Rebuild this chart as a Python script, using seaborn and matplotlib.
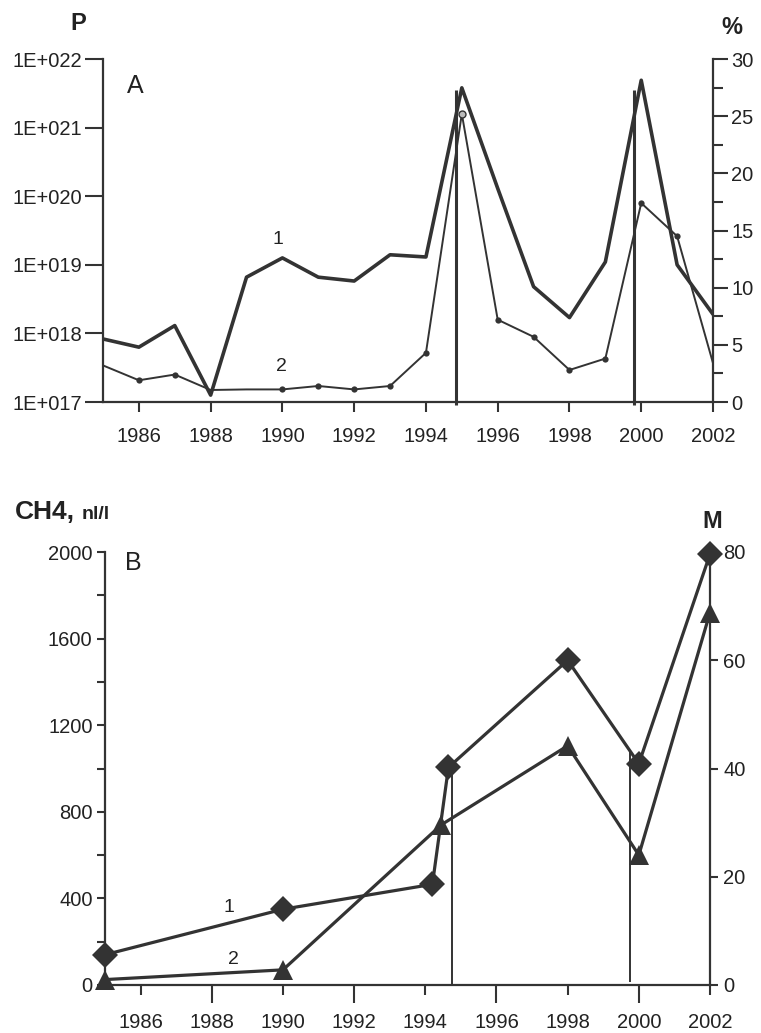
import numpy as np
import seaborn as sns
import matplotlib.pyplot as plt
from matplotlib.ticker import FixedLocator, FuncFormatter, MultipleLocator, NullLocator

sns.set_style("ticks")
plt.rcParams['font.family'] = ['Liberation Sans', 'DejaVu Sans']

INK = '#333333'
TXT = '#222222'

# ---- panel A data ----
years_a = [1985, 1986, 1987, 1988, 1989, 1990, 1991, 1992, 1993,
           1994, 1995, 1996, 1997, 1998, 1999, 2000, 2001, 2002]
p_values = [8.3e17, 6.3e17, 1.3e18, 1.26e17, 6.6e18, 1.26e19, 6.6e18, 5.8e18, 1.4e19,
            1.3e19, 3.8e21, 1.3e20, 4.8e18, 1.7e18, 1.1e19, 4.9e21, 1.0e19, 1.9e18]
pct_values = [3.2, 1.9, 2.4, 1.05, 1.1, 1.1, 1.4, 1.1, 1.4,
              4.3, 25.2, 7.2, 5.7, 2.8, 3.8, 17.4, 14.5, 3.4]
dot_idx = [1, 2, 5, 6, 7, 8, 9, 11, 12, 13, 14, 15, 16]
open_idx = [10]
events_a = [1994.85, 1999.8]
events_a_top = [27.3, 27.3]

# ---- panel B data ----
ch4_years = [1985, 1990, 1994.2, 1994.65, 1998, 2000, 2002]
ch4_values = [140, 350, 465, 1005, 1500, 1022, 1990]
m_years = [1985, 1990, 1994.45, 1998, 2000, 2002]
m_values = [1.0, 2.8, 29.6, 44.2, 24.0, 68.8]
events_b = [1994.75, 1999.75]
events_b_bottom = [0, 0.5]
events_b_top = [40, 43.3]

W, H = 761, 1033
fig = plt.figure(figsize=(W / 100, H / 100), dpi=100)


def rect(left, top, right, bottom):
    return [left / W, 1 - bottom / H, (right - left) / W, (bottom - top) / H]


def px(x, y):
    return x / W, 1 - y / H


# ================= panel A =================
ax = fig.add_axes(rect(103, 59, 713, 402))
ax2 = ax.twinx()

sns.lineplot(x=years_a, y=p_values, ax=ax, color=INK, lw=2.6, zorder=3)
ax.set_yscale('log')
ax.set_ylim(1e17, 1e22)
ax.set_xlim(1985, 2002)
ax.yaxis.set_major_locator(FixedLocator([1e17, 1e18, 1e19, 1e20, 1e21, 1e22]))
ax.yaxis.set_minor_locator(NullLocator())
ax.yaxis.set_major_formatter(FuncFormatter(lambda v, p: f"1E+{int(round(np.log10(v))):03d}"))
ax.set_xticks(range(1986, 2003, 2))

sns.lineplot(x=years_a, y=pct_values, ax=ax2, color=INK, lw=1.4, marker='o',
             markersize=4.5, markevery=dot_idx, markeredgewidth=0, zorder=3)
ax2.plot([years_a[i] for i in open_idx], [pct_values[i] for i in open_idx], 'o',
         ms=5, mfc='#bbbbbb', mec=INK, mew=1, zorder=4)
ax2.vlines(events_a, -0.3, events_a_top, color=INK, lw=2.2, clip_on=False, zorder=2)
ax2.set_ylim(0, 30)
ax2.set_xlim(1985, 2002)
ax2.yaxis.set_major_locator(MultipleLocator(5))
ax2.yaxis.set_minor_locator(MultipleLocator(2.5))

for a in (ax, ax2):
    a.set_xlabel('')
    a.set_ylabel('')
    for s in a.spines.values():
        s.set_color(INK)
        s.set_linewidth(1.6)
    a.spines['top'].set_visible(False)
ax.spines['right'].set_visible(False)
ax2.spines['left'].set_visible(False)
ax2.spines['bottom'].set_visible(False)

ax.tick_params(axis='x', length=7, width=1.5, pad=11, labelsize=14.5,
               color=INK, labelcolor=TXT)
ax.tick_params(axis='y', length=13, width=1.5, pad=2, labelsize=14.5,
               color=INK, labelcolor=TXT)
ax2.tick_params(axis='y', which='major', length=11, width=1.5, pad=2, labelsize=14.5,
                color=INK, labelcolor=TXT)
ax2.tick_params(axis='y', which='minor', length=7, width=1.5, color=INK)

fig.text(*px(78, 24), 'P', fontsize=17, fontweight='bold', color=TXT, ha='center', va='center')
fig.text(*px(732, 28), '%', fontsize=17, fontweight='bold', color=TXT, ha='center', va='center')
fig.text(*px(135, 86), 'A', fontsize=18, color=TXT, ha='center', va='center')
fig.text(*px(278, 240), '1', fontsize=14, color=TXT, ha='center', va='center')
fig.text(*px(281, 367), '2', fontsize=14, color=TXT, ha='center', va='center')

# ================= panel B =================
bx = fig.add_axes(rect(105, 552, 710, 985))
bx2 = bx.twinx()

sns.lineplot(x=ch4_years, y=ch4_values, ax=bx, color=INK, lw=2.3, marker='D',
             markersize=13.5, markeredgewidth=0, clip_on=False, zorder=4)
bx.set_ylim(0, 2000)
bx.set_xlim(1985, 2002)
bx.yaxis.set_major_locator(MultipleLocator(400))
bx.yaxis.set_minor_locator(MultipleLocator(200))

sns.lineplot(x=m_years, y=m_values, ax=bx2, color=INK, lw=2.3, marker='^',
             markersize=15, markeredgewidth=0, clip_on=False, zorder=4)
bx2.vlines(events_b, events_b_bottom, events_b_top, color=INK, lw=1.4, zorder=2)
bx2.set_ylim(0, 80)
bx2.set_xlim(1985, 2002)
bx2.yaxis.set_major_locator(MultipleLocator(20))

bx.xaxis.set_major_locator(FixedLocator([1988, 1992, 1996, 2000]))
bx.xaxis.set_minor_locator(FixedLocator([1986, 1990, 1994, 1998, 2002]))
bx.xaxis.set_minor_formatter(FuncFormatter(lambda v, p: f"{int(round(v))}"))

for a in (bx, bx2):
    a.set_xlabel('')
    a.set_ylabel('')
    for s in a.spines.values():
        s.set_color(INK)
        s.set_linewidth(1.6)
    a.spines['top'].set_visible(False)
bx.spines['right'].set_visible(False)
bx2.spines['left'].set_visible(False)
bx2.spines['bottom'].set_visible(False)

bx.tick_params(axis='x', which='major', length=13, width=1.5, pad=7.2, labelsize=14.5,
               color=INK, labelcolor=TXT)
bx.tick_params(axis='x', which='minor', length=7, width=1.5, pad=13.2, labelsize=14.5,
               color=INK, labelcolor=TXT)
bx.tick_params(axis='y', which='both', length=6, width=1.5, pad=3, labelsize=14.5,
               color=INK, labelcolor=TXT)
bx2.tick_params(axis='y', length=6, width=1.5, pad=3.5, labelsize=14.5,
                color=INK, labelcolor=TXT)

fig.text(*px(15, 519), 'CH4,', fontsize=19, fontweight='bold', color=TXT, ha='left', va='baseline')
fig.text(*px(82, 519), 'nl/l', fontsize=14, fontweight='bold', color=TXT, ha='left', va='baseline')
fig.text(*px(712, 522), 'M', fontsize=17, fontweight='bold', color=TXT, ha='center', va='center')
fig.text(*px(133, 563), 'B', fontsize=18, color=TXT, ha='center', va='center')
fig.text(*px(229, 907), '1', fontsize=14, color=TXT, ha='center', va='center')
fig.text(*px(233, 959), '2', fontsize=14, color=TXT, ha='center', va='center')

fig.savefig('out.png', dpi=100)
